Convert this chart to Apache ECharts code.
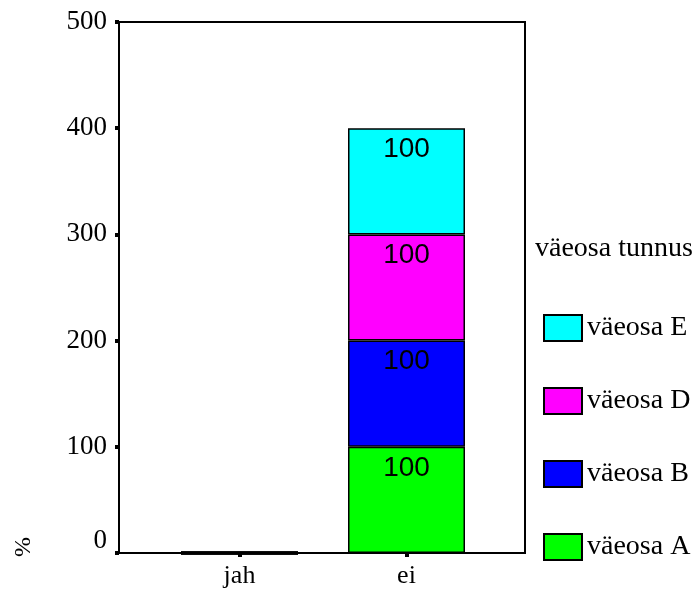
<!DOCTYPE html>
<html>
<head>
<meta charset="utf-8">
<script src="https://cdn.jsdelivr.net/npm/echarts@6/dist/echarts.min.js"></script>
<style>
  html, body { margin: 0; padding: 0; background: #fff; }
  #chart { width: 697px; height: 595px; }
</style>
</head>
<body>
<div id="chart"></div>
<script>
const categories = ['jah', 'ei'];
const seriesNames = ['väeosa A', 'väeosa B', 'väeosa D', 'väeosa E'];
const seriesValues = [
  [0, 100],
  [0, 100],
  [0, 100],
  [0, 100]
];
const seriesColors = ['#00ff00', '#0000ff', '#ff00ff', '#00ffff'];
const yTicks = { min: 0, max: 500, interval: 100 };

const chart = echarts.init(document.getElementById('chart'));

const serif = '"Liberation Serif", "Times New Roman", serif';
const sans = '"Liberation Sans", Arial, sans-serif';

chart.setOption({
  animation: false,
  grid: [
    { left: 119, top: 22, width: 406, height: 531, show: true, borderColor: '#000', borderWidth: 2, backgroundColor: 'transparent' },
    { left: 156, top: 22, width: 334, height: 531 }
  ],
  title: {
    text: 'väeosa tunnus',
    left: 535,
    top: 235,
    padding: 0,
    textStyle: { fontFamily: serif, fontSize: 28, fontWeight: 'normal', color: '#000' }
  },
  legend: {
    orient: 'vertical',
    left: 543,
    top: 314,
    padding: 0,
    itemWidth: 38,
    itemHeight: 26,
    itemGap: 45,
    icon: 'rect',
    data: seriesNames.slice().reverse(),
    textStyle: { fontFamily: serif, fontSize: 28, lineHeight: 26, color: '#000' }
  },
  graphic: [{
    type: 'text',
    left: 12,
    top: 537,
    rotation: Math.PI / 2,
    style: { text: '%', font: '24px ' + serif, fill: '#000' }
  }],
  xAxis: [
    { type: 'value', gridIndex: 0, show: false, min: 0, max: 1 },
    {
      type: 'category',
      gridIndex: 1,
      data: categories,
      axisLine: { show: false },
      axisTick: { show: true, alignWithLabel: true, length: 4, lineStyle: { color: '#000', width: 4 } },
      axisLabel: { color: '#000', fontFamily: serif, fontSize: 26, margin: 10 }
    }
  ],
  yAxis: [
    {
      type: 'value',
      gridIndex: 0,
      min: yTicks.min,
      max: yTicks.max,
      interval: yTicks.interval,
      axisLine: { show: false },
      axisTick: { show: true, length: 4, lineStyle: { color: '#000', width: 4 } },
      axisLabel: {
        color: '#000',
        fontFamily: serif,
        fontSize: 27,
        margin: 12,
        formatter: (v) => (v === 0 ? '{z|0}' : String(v)),
        rich: { z: { fontFamily: serif, fontSize: 27, color: '#000', padding: [0, 0, 24, 0] } }
      },
      splitLine: { show: false }
    },
    { type: 'value', gridIndex: 1, show: false, min: yTicks.min, max: yTicks.max, splitLine: { show: false } }
  ],
  series: seriesNames.map((name, i) => ({
    name: name,
    type: 'bar',
    stack: 'total',
    xAxisIndex: 1,
    yAxisIndex: 1,
    barWidth: 117,
    data: seriesValues[i].map((v) => (v === 0 ? { value: v, itemStyle: { borderWidth: 3 } } : v)),
    itemStyle: { color: seriesColors[i], borderColor: '#000', borderWidth: 1.5 },
    label: {
      show: true,
      position: 'insideTop',
      distance: 7,
      color: '#000',
      fontFamily: sans,
      fontSize: 28,
      formatter: (p) => (p.value > 0 ? String(p.value) : '')
    }
  }))
});
</script>
</body>
</html>
